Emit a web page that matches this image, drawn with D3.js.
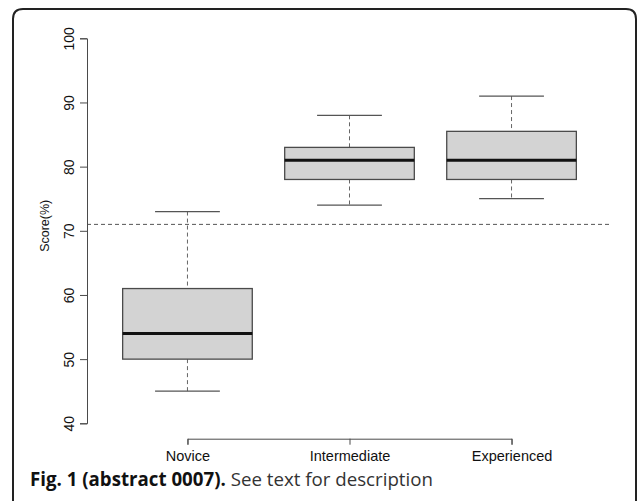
<!DOCTYPE html>
<html>
<head>
<meta charset="utf-8">
<script src="https://cdn.jsdelivr.net/npm/d3@7"></script>
<style>
	html, body { margin: 0; padding: 0; background: #fff; }
	svg { display: block; }
</style>
</head>
<body>
<svg id="chart" width="637" height="501"></svg>
<script>
// data
const groups = ["Novice", "Intermediate", "Experienced"];
const whiskerLow = [45, 74, 75];
const q1 = [50, 78, 78];
const median = [54, 81, 81];
const q3 = [61, 83, 85.5];
const whiskerHigh = [73, 88, 91];
const cutoff = 71;
const yTicks = [40, 50, 60, 70, 80, 90, 100];

const W = 637, H = 501;
const svg = d3.select("#chart");

// R-style plot region (4% padding on both axes)
const x = d3.scaleLinear().domain([0.38, 3.62]).range([87, 612]);
const y = d3.scaleLinear().domain([37.6, 102.4]).range([438.7, 22.9]);

const boxW = x(1.8) - x(1);     // boxwex 0.8
const capW = boxW / 2;          // staplewex 0.5

const ink = "#4a4a4a";

// outer frame with rounded top corners
const r = 10, fx0 = 13, fx1 = 636, fy0 = 9;
svg.append("path")
	.attr("d", `M${fx0},${H + 5} L${fx0},${fy0 + r} Q${fx0},${fy0} ${fx0 + r},${fy0} L${fx1 - r},${fy0} Q${fx1},${fy0} ${fx1},${fy0 + r} L${fx1},${H + 5}`)
	.attr("fill", "none").attr("stroke", "#222").attr("stroke-width", 2);

const data = groups.map((g, i) => ({
	g, i: i + 1,
	lo: whiskerLow[i], q1: q1[i], med: median[i], q3: q3[i], hi: whiskerHigh[i]
}));

// reference line
svg.append("line")
	.attr("x1", x.range()[0]).attr("x2", x.range()[1])
	.attr("y1", y(cutoff)).attr("y2", y(cutoff))
	.attr("stroke", "#555").attr("stroke-dasharray", "4,3").attr("stroke-width", 1);

const box = svg.append("g").selectAll("g").data(data).join("g");

// whiskers (dashed)
box.append("line")
	.attr("x1", d => x(d.i)).attr("x2", d => x(d.i))
	.attr("y1", d => y(d.hi)).attr("y2", d => y(d.q3))
	.attr("stroke", "#666").attr("stroke-dasharray", "4,3");
box.append("line")
	.attr("x1", d => x(d.i)).attr("x2", d => x(d.i))
	.attr("y1", d => y(d.q1)).attr("y2", d => y(d.lo))
	.attr("stroke", "#666").attr("stroke-dasharray", "4,3");

// staples
box.selectAll("line.cap")
	.data(d => [{ i: d.i, v: d.lo }, { i: d.i, v: d.hi }])
	.join("line").attr("class", "cap")
	.attr("x1", d => x(d.i) - capW / 2).attr("x2", d => x(d.i) + capW / 2)
	.attr("y1", d => y(d.v)).attr("y2", d => y(d.v))
	.attr("stroke", "#555").attr("stroke-width", 1.3);

// boxes
box.append("rect")
	.attr("x", d => x(d.i) - boxW / 2)
	.attr("y", d => y(d.q3))
	.attr("width", boxW)
	.attr("height", d => y(d.q1) - y(d.q3))
	.attr("fill", "#d3d3d3").attr("stroke", ink).attr("stroke-width", 1.3);

// medians
box.append("line")
	.attr("x1", d => x(d.i) - boxW / 2).attr("x2", d => x(d.i) + boxW / 2)
	.attr("y1", d => y(d.med)).attr("y2", d => y(d.med))
	.attr("stroke", "#111").attr("stroke-width", 3);

// y axis: line only spans the tick range, labels rotated like R's las=0
const yAxisScale = y.copy().domain([40, 100]).range([y(40), y(100)]);
svg.append("g")
	.attr("transform", `translate(${x.range()[0]},0)`)
	.call(d3.axisLeft(yAxisScale).tickValues(yTicks).tickSize(7).tickSizeOuter(7))
	.call(g => {
		g.selectAll("path, line").attr("stroke", ink);
		g.selectAll("text")
			.attr("x", null).attr("dy", null)
			.attr("text-anchor", "middle")
			.attr("transform", "translate(-13,0) rotate(-90)")
			.attr("fill", "#111")
			.attr("font-family", "Liberation Sans, Arial, sans-serif")
			.attr("font-size", "14px");
	});

svg.append("text")
	.attr("transform", `translate(49, ${(y(40) + y(100)) / 2 - 5}) rotate(-90)`)
	.attr("text-anchor", "middle")
	.attr("font-family", "Liberation Sans, Arial, sans-serif")
	.attr("font-size", "12.5px").attr("fill", "#111")
	.text("Score(%)");

// x axis
const xAxisScale = x.copy().domain([1, 3]).range([x(1), x(3)]);
svg.append("g")
	.attr("transform", `translate(0,${y.range()[0]})`)
	.call(d3.axisBottom(xAxisScale).tickValues([1, 2, 3]).tickFormat(i => groups[i - 1]).tickSize(6).tickSizeOuter(6))
	.call(g => {
		g.selectAll("path, line").attr("stroke", ink);
		g.selectAll("text")
			.attr("y", 22).attr("dy", null)
			.attr("fill", "#111")
			.attr("font-family", "Liberation Sans, Arial, sans-serif")
			.attr("font-size", "14.5px");
	});

// caption
const cap = svg.append("text")
	.attr("x", 30).attr("y", 486)
	.attr("font-family", "Open Sans, Noto Sans, sans-serif")
	.attr("font-size", "18px").attr("fill", "#111");
cap.append("tspan").attr("font-weight", "bold").text("Fig. 1 (abstract 0007).");
cap.append("tspan").attr("fill", "#333").text(" See text for description");
// fit the caption to the width it takes in the figure
const capLen = cap.node().getComputedTextLength();
cap.attr("font-size", (18 * 403 / capLen).toFixed(2) + "px");
</script>
</body>
</html>
